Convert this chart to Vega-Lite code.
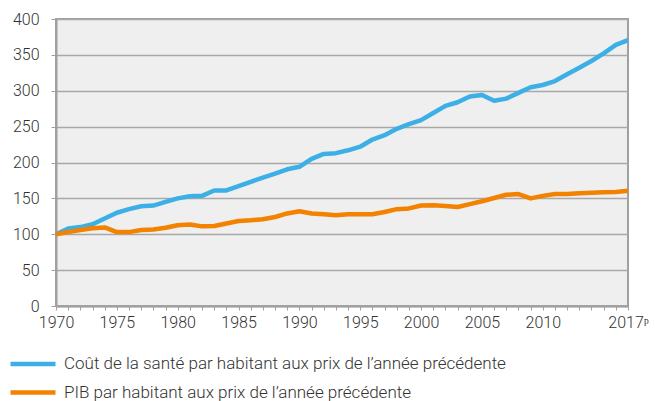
{
  "$schema": "https://vega.github.io/schema/vega-lite/v6.json",
  "width": 572,
  "height": 287,
  "autosize": {"type": "none"},
  "padding": {"left": 56, "top": 19, "right": 27, "bottom": 95},
  "background": "white",
  "title": {
    "text": "(1970 = 100)",
    "anchor": "start",
    "frame": "group",
    "dx": 7,
    "offset": 16,
    "baseline": "alphabetic",
    "font": "Roboto",
    "fontSize": 16,
    "fontWeight": 300,
    "color": "#333333"
  },
  "data": {
    "values": [
      {"annee": 1970, "sante": 100, "pib": 100},
      {"annee": 1971, "sante": 108, "pib": 103},
      {"annee": 1972, "sante": 110, "pib": 106},
      {"annee": 1973, "sante": 114, "pib": 108.5},
      {"annee": 1974, "sante": 122, "pib": 109.5},
      {"annee": 1975, "sante": 130, "pib": 103},
      {"annee": 1976, "sante": 135, "pib": 103},
      {"annee": 1977, "sante": 139, "pib": 106},
      {"annee": 1978, "sante": 140, "pib": 106.5},
      {"annee": 1979, "sante": 145, "pib": 109},
      {"annee": 1980, "sante": 150, "pib": 112.5},
      {"annee": 1981, "sante": 153, "pib": 113.5},
      {"annee": 1982, "sante": 153.5, "pib": 111},
      {"annee": 1983, "sante": 161, "pib": 111.5},
      {"annee": 1984, "sante": 161, "pib": 115},
      {"annee": 1985, "sante": 167, "pib": 118.5},
      {"annee": 1986, "sante": 173, "pib": 119.5},
      {"annee": 1987, "sante": 179, "pib": 121},
      {"annee": 1988, "sante": 184.5, "pib": 124},
      {"annee": 1989, "sante": 190.5, "pib": 129},
      {"annee": 1990, "sante": 194, "pib": 132},
      {"annee": 1991, "sante": 205, "pib": 129},
      {"annee": 1992, "sante": 212, "pib": 128},
      {"annee": 1993, "sante": 213, "pib": 126.5},
      {"annee": 1994, "sante": 217, "pib": 128},
      {"annee": 1995, "sante": 222, "pib": 128},
      {"annee": 1996, "sante": 232, "pib": 128},
      {"annee": 1997, "sante": 238, "pib": 131},
      {"annee": 1998, "sante": 247, "pib": 135},
      {"annee": 1999, "sante": 253.5, "pib": 136},
      {"annee": 2000, "sante": 259, "pib": 140},
      {"annee": 2001, "sante": 269, "pib": 140.5},
      {"annee": 2002, "sante": 279, "pib": 139.5},
      {"annee": 2003, "sante": 284, "pib": 138},
      {"annee": 2004, "sante": 292, "pib": 142},
      {"annee": 2005, "sante": 294, "pib": 146},
      {"annee": 2006, "sante": 286, "pib": 150.5},
      {"annee": 2007, "sante": 289, "pib": 155},
      {"annee": 2008, "sante": 297, "pib": 156},
      {"annee": 2009, "sante": 305, "pib": 150},
      {"annee": 2010, "sante": 308, "pib": 153.5},
      {"annee": 2011, "sante": 313.5, "pib": 156},
      {"annee": 2012, "sante": 323, "pib": 156},
      {"annee": 2013, "sante": 332, "pib": 157},
      {"annee": 2014, "sante": 341.5, "pib": 158},
      {"annee": 2015, "sante": 352, "pib": 158.5},
      {"annee": 2016, "sante": 364, "pib": 159},
      {"annee": 2017, "sante": 370.5, "pib": 160.5}
    ]
  },
  "transform": [
    {"fold": ["sante", "pib"], "as": ["serie", "indice"]}
  ],
  "mark": {"type": "line", "strokeWidth": 4.5, "strokeJoin": "round", "strokeCap": "butt"},
  "encoding": {
    "x": {
      "field": "annee",
      "type": "quantitative",
      "scale": {"domain": [1970, 2017], "nice": false, "zero": false},
      "axis": {
        "title": null,
        "values": [1970,1971,1972,1973,1974,1975,1976,1977,1978,1979,1980,1981,1982,1983,1984,1985,1986,1987,1988,1989,1990,1991,1992,1993,1994,1995,1996,1997,1998,1999,2000,2001,2002,2003,2004,2005,2006,2007,2008,2009,2010,2011,2012,2013,2014,2015,2016,2017],
        "labelExpr": "datum.value == 2017 ? '2017ᵖ' : (datum.value % 5 == 0 && datum.value <= 2010 ? datum.value + '' : '')",
        "labelOverlap": false,
        "labelFlush": false,
        "grid": false,
        "tickSize": 4,
        "tickColor": "#a0a0a0",
        "domainColor": "#a0a0a0",
        "domainWidth": 2,
        "labelPadding": 4,
        "labelFont": "Roboto",
        "labelFontSize": 16,
        "labelFontWeight": 300,
        "labelColor": "#333333"
      }
    },
    "y": {
      "field": "indice",
      "type": "quantitative",
      "scale": {"domain": [0, 400], "nice": false},
      "axis": {
        "title": null,
        "values": [0, 50, 100, 150, 200, 250, 300, 350, 400],
        "grid": true,
        "gridColor": "#a8a8a8",
        "gridWidth": 1.5,
        "tickSize": 5,
        "tickColor": "#a0a0a0",
        "domainColor": "#a0a0a0",
        "domainWidth": 2,
        "labelPadding": 12,
        "labelFont": "Roboto",
        "labelFontSize": 16,
        "labelFontWeight": 300,
        "labelColor": "#333333"
      }
    },
    "color": {
      "field": "serie",
      "type": "nominal",
      "scale": {"domain": ["sante", "pib"], "range": ["#3cb0e6", "#f28200"]},
      "legend": {
        "title": null,
        "orient": "none",
        "legendX": -37.5,
        "legendY": 330.5,
        "direction": "vertical",
        "symbolType": "M-1.875,0H1.875",
        "symbolSize": 576,
        "symbolStrokeWidth": 4.5,
        "symbolFillColor": "transparent",
        "labelOffset": 16.5,
        "rowPadding": 4.5,
        "labelFont": "Roboto",
        "labelFontSize": 17,
        "labelFontWeight": 300,
        "labelColor": "#333333",
        "labelLimit": 600,
        "labelExpr": "datum.value == 'sante' ? 'Coût de la santé par habitant aux prix de l’année précédente' : 'PIB par habitant aux prix de l’année précédente'"
      }
    }
  },
  "config": {
    "view": {"fill": "#efefef", "stroke": "#a0a0a0", "strokeWidth": 2}
  }
}
